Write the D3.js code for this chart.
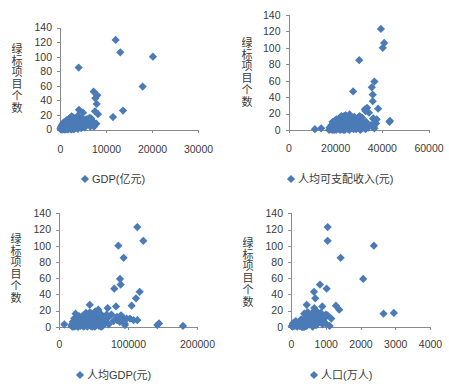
<!DOCTYPE html>
<html><head><meta charset="utf-8">
<script src="https://cdn.jsdelivr.net/npm/d3@7"></script>
<style>
body{margin:0;background:#fff;}
text{font-family:"Liberation Sans","Noto Sans CJK SC",sans-serif;fill:#3a3a3a;}
</style></head><body>
<svg id="c" width="449" height="390"></svg>
<script>
// Data: each index is one city
const greenCount = [123,106,100,85,59,52,47,43,35,27,26,25,23,21,17,16,
 18,17,16,15,15,14,14,13,13,12,12,12,11,11,10,10,10,10,9,9,9,9,8,8,8,8,7,7,7,7,7,6,6,6,6,6,5,5,5,5,5,5,4,4,4,4,4,4,4,3,3,3,3,3,3,3,3,2,2,2,2,2,2,2,2,1,1,1,1,1,1,1,1,0,0,0,0,0,0,0,0,0,8,10,11,14,13,4,14,8,17,16,19,10,15];
const gdp = [12100,13100,20200,4060,17970,7320,8110,7680,7970,4130,13700,7610,5000,8260,11520,6500,
 2500,2800,2200,3100,6800,6500,1900,4500,1500,5800,3600,2400,1200,4900,6200,2000,3300,900,4000,1700,5200,700,2600,1100,3800,6000,1400,2900,500,4300,7200,2100,800,3500,1600,5600,1300,2700,400,4700,1000,3000,600,2300,1800,3700,6600,900,300,1500,2500,700,4100,1200,3200,5400,200,1000,2000,500,3400,1400,4600,800,2800,300,600,1100,1900,2600,100,3900,700,400,900,1300,200,1700,2400,600,3000,1000,7900,6900,7100,6000,6800,7400,5700,4400,3800,4800,3900,7300,6300];
const income = [39600,41000,40400,30300,36800,35700,27700,36100,36100,33700,38400,32700,33000,34500,30500,24000,
 24500,23800,26500,22400,29800,27200,21600,25300,20500,31000,24100,22900,19800,28500,33200,21300,26800,18900,23300,20200,30500,19300,25700,21900,27700,37200,20700,24800,22300,31600,33800,23600,18400,28900,26000,35400,19600,22000,23900,29300,25000,30200,20800,21200,27300,24400,36500,19100,26300,22600,32000,17600,25900,20100,28200,34100,24900,21000,23100,19900,26700,14000,36800,31200,20600,11300,18200,22800,25600,29000,33000,21800,27900,18700,20400,23500,17400,26100,30800,19500,24200,22100,37500,43250,43500,36200,37800,35800,36400,37000,22700,28200,26200,24000,31500];
const gdpPerCapita = [113500,122200,86000,93700,88400,89400,80100,116900,111600,44500,105300,82600,70500,57000,39000,24000,
 52000,46000,58000,41000,76000,62000,35000,49000,29000,84000,39000,45000,26000,71000,98000,36000,55000,22000,43000,31000,62000,24000,57000,33000,48000,108000,28000,51000,36000,66000,79000,42000,20000,59000,38000,88000,27000,47000,44000,53000,34000,61000,30000,40000,50000,37000,95000,23000,56000,32000,65000,19000,45000,25000,60000,72000,7700,29000,43000,21000,54000,33000,142500,95600,39000,18000,24000,31000,46000,58000,179700,35000,63000,22000,27000,36000,41000,52000,61000,20000,48000,28000,113500,102900,92000,90000,89000,145000,57000,84000,44000,60000,53000,61000,69000];
const population = [1054,1054,2385,1428,2078,833,1025,661,699,451,1293,900,670,1388,2960,2663,
 480,610,380,760,890,1050,540,920,520,690,930,530,460,690,630,560,600,410,930,550,840,290,460,330,790,560,500,570,140,650,910,500,400,590,420,640,480,570,90,890,290,490,200,580,360,1000,695,390,55,470,380,370,910,480,530,750,260,345,465,240,630,420,320,85,720,170,250,355,410,450,20,1110,110,180,330,360,50,330,390,300,625,360,700,670,770,670,760,510,1000,520,860,800,740,1160,1000];

const yTicks = [0,20,40,60,80,100,120,140];
const yTitle = "绿标项目个数";
const panelDefs = [
 {values: gdp, xTicks:[0,10000,20000,30000], label:"GDP(亿元)"},
 {values: income, xTicks:[0,20000,40000,60000], label:"人均可支配收入(元)"},
 {values: gdpPerCapita, xTicks:[0,100000,200000], label:"人均GDP(元)"},
 {values: population, xTicks:[0,1000,2000,3000,4000], label:"人口(万人)"}
];

// layout (pixel geometry only)
const layout = [
 {x0:60, x1:198, y0:129.5, y1:27.5, tX:17, tY:49, lX:85, lY:179, xlY:149},
 {x0:288.5, x1:428.5, y0:130, y1:15, tX:247, tY:43, lX:291, lY:179, xlY:148},
 {x0:59, x1:197, y0:326.7, y1:213.3, tX:16, tY:239, lX:80, lY:375, xlY:344},
 {x0:291, x1:430, y0:326.7, y1:213.3, tX:248, tY:243, lX:314, lY:375, xlY:344}
];

const svg = d3.select("#c");
const color = "#4a7bb7";
const diamond = d3.symbol().type(d3.symbolSquare).size(34);
const axisColor = "#8a8a8a";

panelDefs.forEach((p, i) => {
  const L = layout[i];
  const xMax = p.xTicks[p.xTicks.length-1];
  const x = d3.scaleLinear().domain([0, xMax]).range([L.x0, L.x1]);
  const y = d3.scaleLinear().domain([0, 140]).range([L.y0, L.y1]);
  const g = svg.append("g");

  const ya = g.append("g").attr("transform", `translate(${L.x0},0)`)
    .call(d3.axisLeft(y).tickValues(yTicks).tickSize(3).tickPadding(5).tickFormat(d3.format("d")));
  const xa = g.append("g").attr("transform", `translate(0,${L.y0})`)
    .call(d3.axisBottom(x).tickValues(p.xTicks).tickSize(3).tickPadding(4).tickFormat(d3.format("d")));
  [ya, xa].forEach(a => {
    a.selectAll("path,line").attr("stroke", axisColor).attr("shape-rendering","crispEdges");
    a.selectAll("text").style("font-size","10.5px").attr("fill","#3a3a3a");
  });
  xa.selectAll("text").attr("dy", null).attr("y", L.xlY - L.y0).attr("dominant-baseline","central");

  Array.from(yTitle).forEach((ch, k) => {
    g.append("text").attr("x", L.tX).attr("y", L.tY + k*11.7)
      .attr("text-anchor","middle").attr("dominant-baseline","central")
      .style("font-size","11px").text(ch);
  });

  g.append("g").selectAll("path").data(p.values.map((v, k) => [v, greenCount[k]]))
    .join("path")
    .attr("d", diamond)
    .attr("transform", d => `translate(${x(d[0])},${y(d[1])}) rotate(45)`)
    .attr("fill", color);

  g.append("path").attr("d", diamond)
    .attr("transform", `translate(${L.lX},${L.lY}) rotate(45)`).attr("fill", color);
  g.append("text").attr("x", L.lX + 7).attr("y", L.lY)
    .attr("dominant-baseline","central").style("font-size","11px").text(p.label);
});
</script>
</body></html>
